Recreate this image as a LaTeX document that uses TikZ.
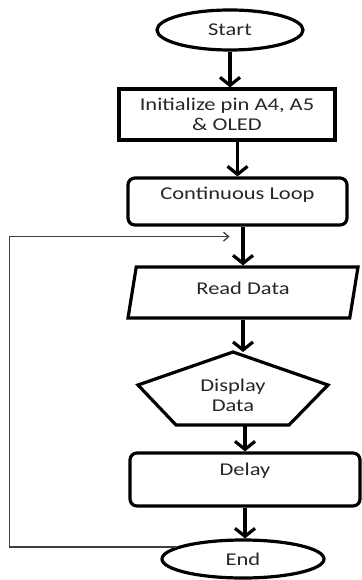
\documentclass[tikz,border=0pt]{standalone}
\usepackage{fontspec}
\setmainfont{Carlito}[FakeStretch=1.25]
\usepackage{tikz}
\usetikzlibrary{shapes.geometric,arrows.meta,positioning}

\begin{document}
\begin{tikzpicture}[x=1pt,y=1pt,on grid,
   font=\fontsize{18}{20}\selectfont,text=black!85,
   outl/.style={line width=3.2pt},
   box/.style={draw,outl,inner sep=0pt,align=center},
   term/.style={box,ellipse},
   proc/.style={box,rectangle},
   rproc/.style={box,rounded corners=7pt},
   io/.style={box,trapezium,trapezium left angle=69,trapezium right angle=111,trapezium stretches body},
   arr/.style={line width=3.2pt,-{Straight Barb[length=8pt,width=20pt]}},
   back/.style={line width=1.3pt,draw=black!75,-{Straight Barb[length=5pt,width=9pt]}}]
   \useasboundingbox (0,0) rectangle (361,-580);
   \node[term,minimum width=146pt,minimum height=40pt] (start) at (230,-30) {Start};
   \node[proc,minimum width=216pt,minimum height=51pt] (init) [below=84.5pt of start,xshift=-3pt] {Initialize pin A4, A5\\ \& OLED};
   \node[rproc,minimum width=219pt,minimum height=47pt,text depth=16.5pt] (loop) [below=87pt of init,xshift=10.5pt] {Continuous Loop};
   \node[io,minimum width=230pt,minimum height=51pt,text depth=9pt] (read) [below=91pt of loop,xshift=5.5pt] {Read Data};
   \node[align=center,inner sep=0pt] (disp) [below=102.5pt of read,xshift=-10pt] {Display\\Data};
   \node[rproc,minimum width=230pt,minimum height=53pt,text depth=20pt] (delay) [below=84.5pt of disp,xshift=12pt] {Delay};
   \node[term,minimum width=162pt,minimum height=38pt] (stop) [below=79.5pt of delay,xshift=-2pt] {End};
   % pentagon round the display text
   \coordinate (dtop) at ([yshift=43pt]disp.center);
   \coordinate (dbot) at ([yshift=-30pt]disp.center);
   \draw[outl] (dtop) -- ([shift={(95,10)}]disp.center) -- ([shift={(56,-30)}]disp.center)
      -- ([shift={(-57,-30)}]disp.center) -- ([shift={(-95,10)}]disp.center) -- cycle;
   \coordinate (join) at ([xshift=-8pt,yshift=-10pt]loop.south);
    \path[arr]
    (start.south) edge (start.south |- init.north)
    (init.south -| loop.north) edge (loop.north)
    (loop.south -| read.north) edge (read.north)
    (read.south) edge (read.south |- dtop)
    (dbot -| delay.north) edge (delay.north)
    (delay.south) edge (delay.south |- stop.north);
   \draw[back] (stop.170) -- ++(-166,0) |- (join);
\end{tikzpicture}
\end{document}
